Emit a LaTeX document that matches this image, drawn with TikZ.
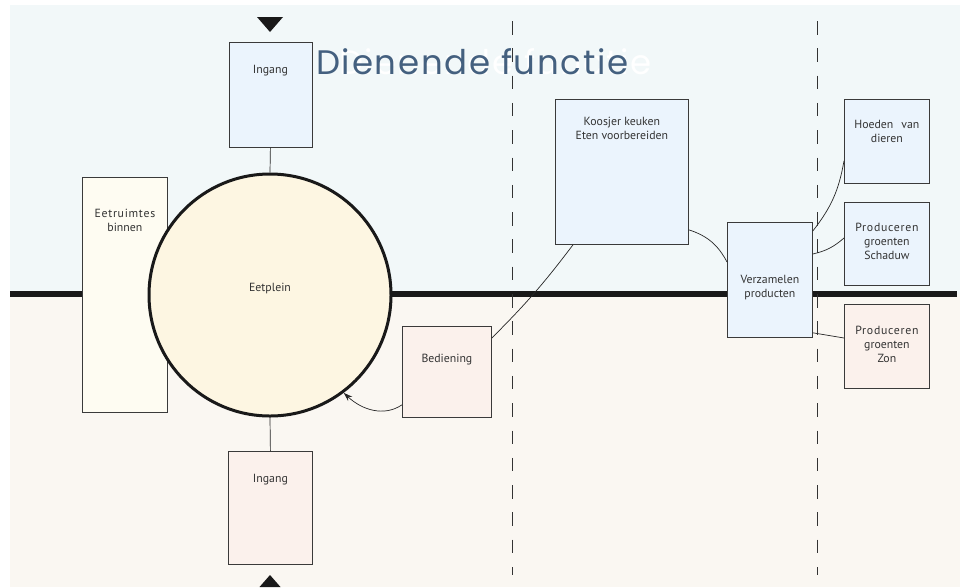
\documentclass[tikz,border=0pt]{standalone}
\usepackage{fontspec}
\setmainfont{PT Sans}
\newfontfamily\titlefont[LetterSpace=5]{Poppins}
\usetikzlibrary{arrows.meta}
\definecolor{topbg}{HTML}{F2F8F9}
\definecolor{botbg}{HTML}{FAF7F2}
\definecolor{bluebox}{HTML}{EBF4FD}
\definecolor{pinkbox}{HTML}{FBF1EC}
\definecolor{creambox}{HTML}{FEFCF2}
\definecolor{circfill}{HTML}{FDF6E2}
\definecolor{titleblue}{HTML}{44607F}
\definecolor{edgecol}{HTML}{3A3A3A}
\newcommand{\spc}[1]{{\addfontfeatures{LetterSpace=6}#1}}
\tikzset{
  box/.style={draw=edgecol, line width=0.8pt, anchor=north west, inner sep=0pt},
  bluebx/.style={box, fill=bluebox},
  pinkbx/.style={box, fill=pinkbox},
  creambx/.style={box, fill=creambox},
  lbl/.style={font=\fontsize{11.8}{14}\selectfont, text=black!80, align=center, inner sep=0pt},
  conn/.style={draw=black!85, line width=0.7pt},
  sepline/.style={draw=black!80, line width=0.8pt, dash pattern=on 13.5pt off 13.8pt},
  ttl/.style={font=\titlefont\fontsize{34}{40}\selectfont, inner sep=0pt, anchor=base west},
}
\begin{document}
\begin{tikzpicture}[x=1pt,y=1pt]
\useasboundingbox (0,0) rectangle (960,-587);
% backgrounds
\fill[topbg] (10,-5) rectangle (960,-294);
\fill[botbg] (10,-294) rectangle (960,-587);
% thick horizon line
\draw[line width=6pt, black!90] (10,-294) -- (957,-294);
% title
\node[ttl, text=white] (ghost) at (339,-74) {Dienende functie};
\node[ttl, text=titleblue] (title) at (316,-74) {Dienende functie};
% boxes
\node[bluebx, minimum width=83pt, minimum height=105pt] (ingT) at (228.5,-42) {};
\node[creambx, minimum width=85pt, minimum height=235pt] (eet) at (82,-177) {};
\node[circle, draw=black!90, line width=3pt, fill=circfill, minimum size=242pt, inner sep=0pt] (ep) at (270,-295) {};
\node[pinkbx, minimum width=84pt, minimum height=113pt] (ingB) at (228,-451) {};
\node[pinkbx, minimum width=89pt, minimum height=91pt] (bed) at (402,-326) {};
\node[bluebx, minimum width=133pt, minimum height=145pt] (koos) at (555,-99) {};
\node[bluebx, minimum width=85pt, minimum height=115pt] (verz) at (727,-222) {};
\node[bluebx, minimum width=85pt, minimum height=84pt] (hoed) at (844,-99) {};
\node[bluebx, minimum width=85pt, minimum height=83pt] (scha) at (844,-202) {};
\node[pinkbx, minimum width=85pt, minimum height=84pt] (zon) at (844,-304) {};
% labels
\node[lbl] (ingTl) at ([yshift=-29pt]ingT.north) {Ingang};
\node[lbl] (eetl) at ([yshift=-43pt]eet.north) {\spc{Eetruimtes}\\binnen};
\node[lbl] (epl) at ([yshift=7pt]ep.center) {Eetplein};
\node[lbl] (ingBl) at ([yshift=-29pt]ingB.north) {Ingang};
\node[lbl] (bedl) at ([yshift=-34pt]bed.north) {Bediening};
\node[lbl] (koosl) at ([yshift=-29pt]koos.north) {Koosjer keuken\\Eten voorbereiden};
\node[lbl] (verzl) at ([yshift=-65.5pt]verz.north) {Verzamelen\\producten};
\node[lbl] (hoedl) at ([yshift=-32.5pt]hoed.north) {Hoeden\hspace{8pt}van\\dieren};
\node[lbl] (schal) at ([yshift=-39.5pt]scha.north) {\spc{Produceren}\\groenten\\Schaduw};
\node[lbl] (zonl) at ([yshift=-40pt]zon.north) {\spc{Produceren}\\groenten\\Zon};
% entrance triangles
\fill[black!90] (257,-17) -- (283,-17) -- (270,-32) -- cycle;
\fill[black!90] (270,-575) -- (259.5,-587) -- (280.5,-587) -- cycle;
% connectors
\draw[conn] (ingT.south) -- (ep.north);
\draw[conn] (ep.south) -- (ingB.north);
\draw[conn, -{Stealth[length=9pt,width=6pt]}] ([yshift=13pt]bed.south west) .. controls (384,-417) and (362,-410) .. (ep.-53);
\draw[conn] ([yshift=-12pt]bed.north east) to[bend right=4] ([xshift=18pt]koos.south west);
\draw[conn] ([yshift=15pt]koos.south east) to[bend left=22] ([yshift=-40pt]verz.north west);
\draw[conn] ([yshift=-9pt]verz.north east) to[bend right=14] ([yshift=23pt]hoed.south west);
\draw[conn] ([yshift=-32pt]verz.north east) to[bend right=14] ([yshift=-36pt]scha.north west);
\draw[conn] ([yshift=5pt]verz.south east) -- ([yshift=-34pt]zon.north west);
% zone separators
\coordinate (s1t) at (512,-21); \coordinate (s1b) at (512,-575);
\coordinate (s2t) at (817,-21); \coordinate (s2b) at (817,-575);
\draw[sepline] (s1t) -- (s1b);
\draw[sepline] (s2t) -- (s2b);
\end{tikzpicture}
\end{document}
